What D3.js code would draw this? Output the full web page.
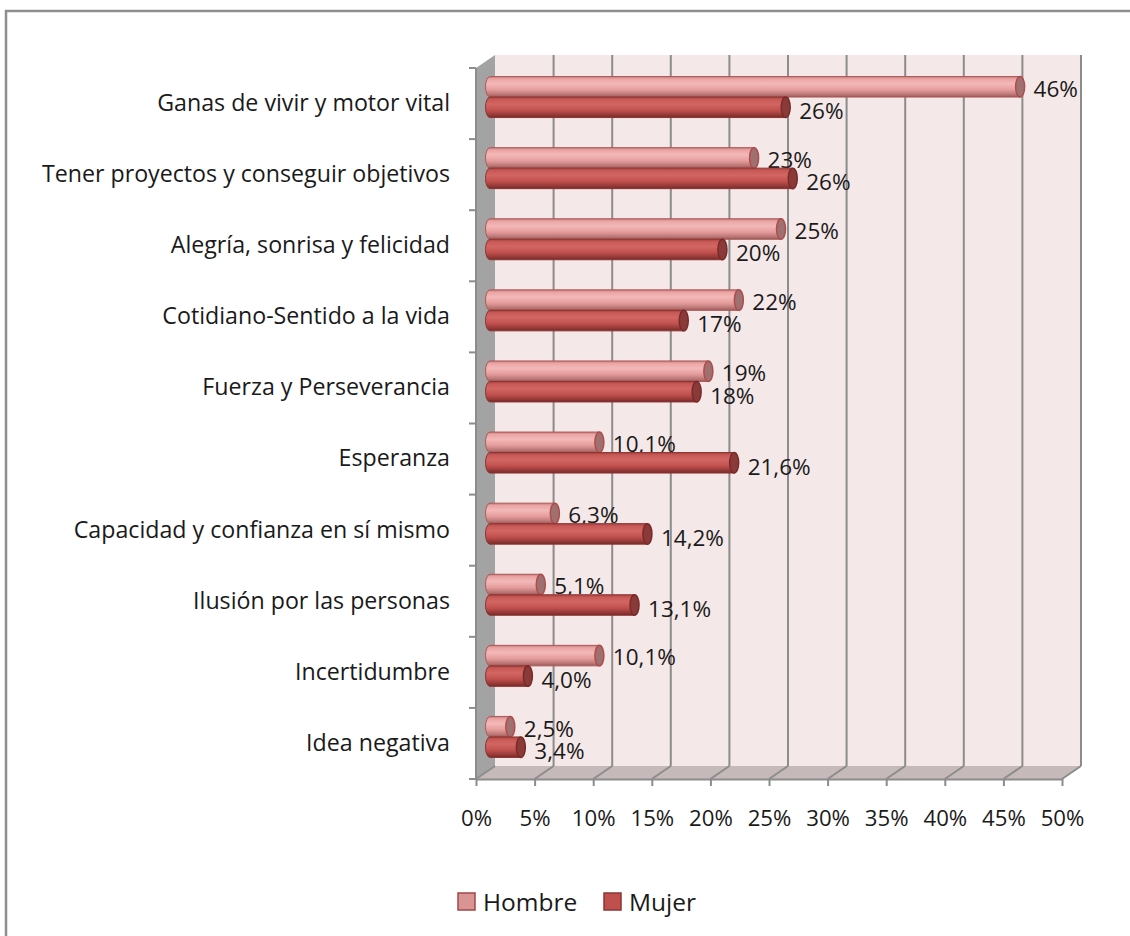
<!DOCTYPE html>
<html>
<head>
<meta charset="utf-8">
<script src="https://cdn.jsdelivr.net/npm/d3@7"></script>
<style>
  body { margin: 0; background: #fff; }
  text { font-family: "Open Sans", sans-serif; fill: #1a1a1a; }
</style>
</head>
<body>
<svg id="chart" width="1130" height="936"></svg>
<script>
// data
const categories = [
  "Ganas de vivir y motor vital",
  "Tener proyectos y conseguir objetivos",
  "Alegría, sonrisa y felicidad",
  "Cotidiano-Sentido a la vida",
  "Fuerza y Perseverancia",
  "Esperanza",
  "Capacidad y confianza en sí mismo",
  "Ilusión por las personas",
  "Incertidumbre",
  "Idea negativa"
];
const hombre = [46, 23.3, 25.6, 22, 19.4, 10.1, 6.3, 5.1, 10.1, 2.5];
const mujer = [26, 26.6, 20.6, 17.3, 18.4, 21.6, 14.2, 13.1, 4.0, 3.4];
const hombreLabels = ["46%", "23%", "25%", "22%", "19%", "10,1%", "6,3%", "5,1%", "10,1%", "2,5%"];
const mujerLabels = ["26%", "26%", "20%", "17%", "18%", "21,6%", "14,2%", "13,1%", "4,0%", "3,4%"];
const xTicks = [0, 5, 10, 15, 20, 25, 30, 35, 40, 45, 50];
const seriesNames = ["Hombre", "Mujer"];

// layout
const svg = d3.select("#chart");
const depthX = 19, depthY = -13;
const barH = 20.5;
const fontSize = 22.5;

const x = d3.scaleLinear().domain([0, 50]).range([476, 1062]);
const y = d3.scaleBand().domain(categories).range([68, 779]);
const yTop = y.range()[0], yBot = y.range()[1];
const xL = x(0), xR = x(50);

// outer frame
svg.append("rect")
  .attr("x", 6).attr("y", 11)
  .attr("width", 1300).attr("height", 1000)
  .attr("fill", "none")
  .attr("stroke", "#8e8e8e")
  .attr("stroke-width", 2.5);

// gradients
let defs = svg.append("defs");
function addGrad(id, stops) {
  let g = defs.append("linearGradient")
    .attr("id", id)
    .attr("x1", 0).attr("y1", 0).attr("x2", 0).attr("y2", 1);
  stops.forEach(s => g.append("stop").attr("offset", s[0]).attr("stop-color", s[1]));
}
addGrad("gradH", [[0, "#c87c7b"], [0.12, "#eaa5a4"], [0.35, "#f3b8b8"], [0.65, "#e49c9b"], [0.9, "#b57271"], [1, "#9b5553"]]);
addGrad("gradM", [[0, "#a8413f"], [0.12, "#c85956"], [0.35, "#d26663"], [0.65, "#c0504d"], [0.9, "#8f3634"], [1, "#742826"]]);

// back wall
svg.append("rect")
  .attr("x", xL + depthX).attr("y", yTop + depthY)
  .attr("width", xR - xL).attr("height", yBot - yTop)
  .attr("fill", "#f5e8e8");

// left wall
svg.append("polygon")
  .attr("points", [
    [xL, yTop], [xL + depthX, yTop + depthY],
    [xL + depthX, yBot + depthY], [xL, yBot]
  ].join(" "))
  .attr("fill", "#a3a3a3");

// floor
svg.append("polygon")
  .attr("points", [
    [xL, yBot], [xL + depthX, yBot + depthY],
    [xR + depthX, yBot + depthY], [xR, yBot]
  ].join(" "))
  .attr("fill", "#c5b9b9");

// gridlines on back wall and floor
let grid = svg.append("g")
  .attr("stroke", "#8c8c8c")
  .attr("stroke-width", 2)
  .attr("fill", "none");
xTicks.forEach(t => {
  if (t > 0) {
    grid.append("line")
      .attr("x1", x(t) + depthX).attr("x2", x(t) + depthX)
      .attr("y1", yTop + depthY).attr("y2", yBot + depthY);
  }
  grid.append("line")
    .attr("x1", x(t)).attr("y1", yBot)
    .attr("x2", x(t) + depthX).attr("y2", yBot + depthY);
});

// x axis
let xAxis = svg.append("g")
  .attr("transform", `translate(0,${yBot})`)
  .call(d3.axisBottom(x)
    .tickValues(xTicks)
    .tickFormat(d => d + "%")
    .tickSize(7)
    .tickSizeOuter(0)
    .tickPadding(24));
xAxis.select(".domain").attr("stroke", "#8c8c8c").attr("stroke-width", 2);
xAxis.selectAll(".tick line").attr("stroke", "#8c8c8c").attr("stroke-width", 2);
xAxis.selectAll("text")
  .attr("font-family", "Open Sans, sans-serif")
  .attr("font-size", fontSize - 0.3)
  .attr("fill", "#1a1a1a");

// y axis (left edge + category boundary ticks)
svg.append("line")
  .attr("x1", xL).attr("x2", xL)
  .attr("y1", yTop).attr("y2", yBot)
  .attr("stroke", "#8c8c8c").attr("stroke-width", 2);
svg.append("g")
  .selectAll("line")
  .data(categories.map(c => y(c)).concat([yBot]))
  .enter()
  .append("line")
  .attr("x1", xL - 7).attr("x2", xL)
  .attr("y1", d => d).attr("y2", d => d)
  .attr("stroke", "#8c8c8c").attr("stroke-width", 2);

let yAxis = svg.append("g")
  .attr("transform", `translate(${xL},0)`)
  .call(d3.axisLeft(y).tickSize(0).tickPadding(26));
yAxis.select(".domain").remove();
yAxis.selectAll("text")
  .attr("font-family", "Open Sans, sans-serif")
  .attr("font-size", 23.2)
  .attr("fill", "#1a1a1a");

// bars (cylinders at mid depth)
let bars = [];
categories.forEach((c, i) => {
  bars.push({ cat: c, v: hombre[i], label: hombreLabels[i], s: 0 });
  bars.push({ cat: c, v: mujer[i], label: mujerLabels[i], s: 1 });
});

const capRx = 4.5;
function barY(d) {
  return y(d.cat) + y.bandwidth() / 2 + depthY / 2 + (d.s === 0 ? -barH : 0);
}
function barX0() { return x(0) + depthX / 2; }
function barX1(d) { return x(d.v) + depthX / 2 - capRx; }

let barG = svg.append("g")
  .selectAll("g")
  .data(bars)
  .enter()
  .append("g");

barG.append("path")
  .attr("d", d => {
    let y0 = barY(d), y1 = y0 + barH, x0 = barX0(), x1 = barX1(d);
    let ry = barH / 2;
    return `M${x0 + capRx},${y0} L${x1},${y0} L${x1},${y1} L${x0 + capRx},${y1} ` +
      `A${capRx},${ry} 0 0 1 ${x0 + capRx},${y0} Z`;
  })
  .attr("fill", d => d.s === 0 ? "url(#gradH)" : "url(#gradM)")
  .attr("stroke", d => d.s === 0 ? "#a95a59" : "#8c3533")
  .attr("stroke-width", 1);

barG.append("ellipse")
  .attr("cx", d => barX1(d))
  .attr("cy", d => barY(d) + barH / 2)
  .attr("rx", capRx)
  .attr("ry", barH / 2)
  .attr("fill", d => d.s === 0 ? "#9e7070" : "#8a3a38")
  .attr("stroke", d => d.s === 0 ? "#b04c4b" : "#7a2a28")
  .attr("stroke-width", 1.5);

barG.append("text")
  .attr("x", d => barX1(d) + capRx + 9)
  .attr("y", d => barY(d) + barH / 2 + (d.s === 0 ? 2 : 4))
  .attr("dy", "0.35em")
  .attr("font-size", fontSize)
  .text(d => d.label);

// legend
let legend = svg.append("g");
let legX = [458, 604];
seriesNames.forEach((name, i) => {
  legend.append("rect")
    .attr("x", legX[i]).attr("y", 893)
    .attr("width", 17).attr("height", 17)
    .attr("fill", i === 0 ? "#d99594" : "#c0504d")
    .attr("stroke", i === 0 ? "#a04846" : "#8c3533")
    .attr("stroke-width", 1.5);
  legend.append("text")
    .attr("x", legX[i] + 25).attr("y", 902)
    .attr("dy", "0.35em")
    .attr("font-size", 24.5)
    .text(name);
});
</script>
</body>
</html>
